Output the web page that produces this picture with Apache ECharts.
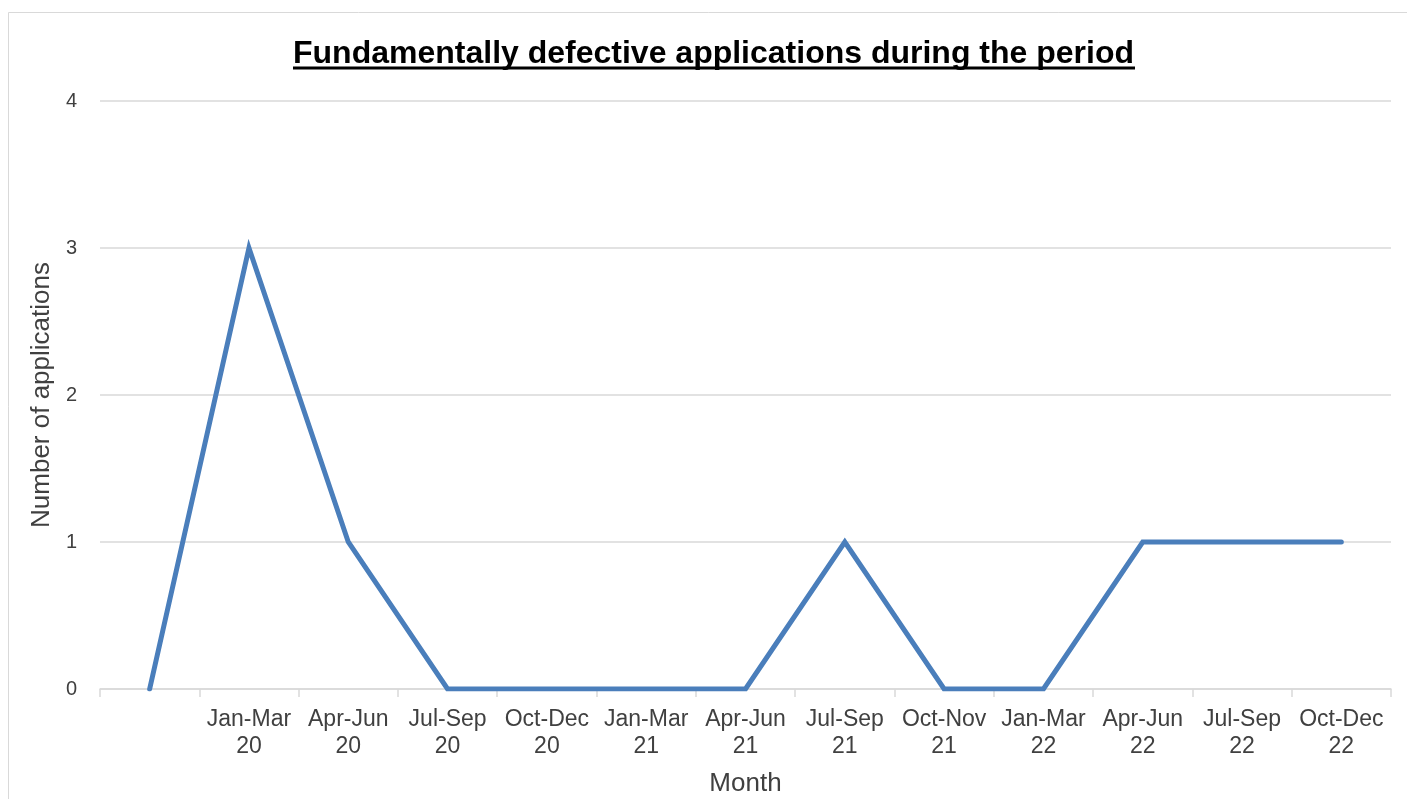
<!DOCTYPE html>
<html><head><meta charset="utf-8">
<script src="https://cdn.jsdelivr.net/npm/echarts@6/dist/echarts.min.js"></script>
<style>html,body{margin:0;padding:0;background:#fff}#c{width:1407px;height:799px}</style>
</head><body><div id="c"></div>
<script>
const categories = ['', 'Jan-Mar\n20', 'Apr-Jun\n20', 'Jul-Sep\n20', 'Oct-Dec\n20', 'Jan-Mar\n21', 'Apr-Jun\n21', 'Jul-Sep\n21', 'Oct-Nov\n21', 'Jan-Mar\n22', 'Apr-Jun\n22', 'Jul-Sep\n22', 'Oct-Dec\n22'];
const applications = [0, 3, 1, 0, 0, 0, 0, 1, 0, 0, 1, 1, 1];
const yTicks = [0, 1, 2, 3, 4];
const titleText = 'Fundamentally defective applications during the period';

const chart = echarts.init(document.getElementById('c'), null, {renderer: 'canvas'});
const font = '"Liberation Sans", Arial, sans-serif';
chart.setOption({
  animation: false,
  backgroundColor: '#fff',
  title: {
    text: titleText, left: 288, top: 33,
    textStyle: {fontFamily: font, fontSize: 32, fontWeight: 'bold', color: '#000'}
  },
  graphic: [
    {type: 'rect', shape: {x: 8.5, y: 12.5, width: 1420, height: 820}, style: {fill: null, stroke: '#d9d9d9', lineWidth: 1}, silent: true},
    {type: 'line', shape: {x1: 293, y1: 68, x2: 1135, y2: 68}, style: {stroke: '#000', lineWidth: 2.8}, silent: true}
  ],
  grid: {left: 100, right: 16, top: 101, bottom: 110, outerBoundsMode: 'none', containLabel: false},
  xAxis: {
    type: 'category', data: categories, boundaryGap: true,
    name: 'Month', nameLocation: 'middle', nameGap: 82,
    nameTextStyle: {fontFamily: font, fontSize: 26, color: '#404040'},
    axisLine: {lineStyle: {color: '#d9d9d9', width: 1.5}},
    axisTick: {show: true, length: 8, lineStyle: {color: '#d9d9d9', width: 1.5}},
    axisLabel: {interval: 0, fontFamily: font, fontSize: 23, color: '#404040', lineHeight: 27, margin: 17}
  },
  yAxis: {
    type: 'value', min: 0, max: 4, interval: 1,
    name: 'Number of applications', nameLocation: 'middle', nameGap: 45,
    nameTextStyle: {fontFamily: font, fontSize: 26, color: '#404040'},
    axisLine: {show: false}, axisTick: {show: false},
    splitLine: {lineStyle: {color: '#d9d9d9', width: 1.5}},
    axisLabel: {fontFamily: font, fontSize: 20, color: '#404040', margin: 23,
      formatter: v => yTicks.includes(v) ? String(v) : ''}
  },
  series: [{
    type: 'line', data: applications, showSymbol: false, symbol: 'none',
    lineStyle: {color: '#4a7ebb', width: 5, cap: 'round', join: 'miter'}
  }]
});
</script></body></html>
